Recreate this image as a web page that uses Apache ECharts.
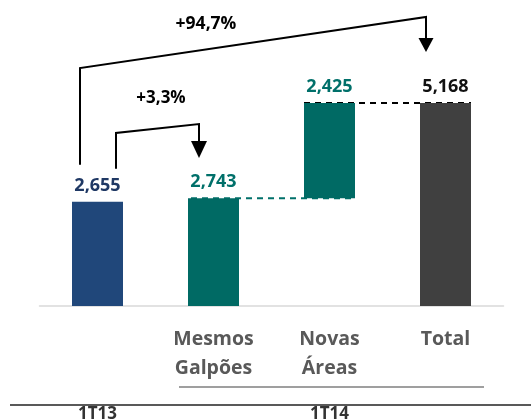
<!DOCTYPE html>
<html>
<head>
<meta charset="utf-8">
<script src="https://cdn.jsdelivr.net/npm/echarts@6/dist/echarts.min.js"></script>
<style>
  html, body { margin: 0; padding: 0; background: #fff; }
  #chart { width: 531px; height: 419px; }
</style>
</head>
<body>
<div id="chart"></div>
<script>
// Waterfall: 1T13 -> same warehouses -> new areas -> 1T14 total
const categories = ['', 'Mesmos\nGalpões', 'Novas\nÁreas', 'Total'];
const periodLabels = ['1T13', '', '1T14', ''];
const baseValues = [0, 0, 2743, 0];          // invisible offset under each bar
const barValues = [2655, 2743, 2425, 5168];   // visible bar heights
const valueLabels = ['2,655', '2,743', '2,425', '5,168'];
const growthLabels = ['+3,3%', '+94,7%'];

const barColors = ['#20477a', '#006a64', '#006a64', '#404040'];
const labelColors = ['#1f3864', '#00706a', '#00706a', '#111111'];
const FONT = '"Open Sans", sans-serif';

const chart = echarts.init(document.getElementById('chart'), null, { renderer: 'canvas' });

chart.setOption({
  animation: false,
  grid: { left: 39.5, right: 27.5, top: 70.3, bottom: 113 },
  xAxis: {
    type: 'category',
    data: categories,
    axisLine: { show: true, lineStyle: { color: '#d9d9d9', width: 1.5 } },
    axisTick: { show: false },
    axisLabel: {
      interval: 0,
      margin: 19,
      color: '#595959',
      fontFamily: FONT,
      fontWeight: 'bold',
      fontSize: 19.5,
      lineHeight: 29
    }
  },
  yAxis: {
    type: 'value',
    min: 0,
    max: 6000,
    show: false,
    splitLine: { show: false }
  },
  series: [
    {
      type: 'bar',
      stack: 'wf',
      data: baseValues,
      barWidth: 51,
      itemStyle: { color: 'transparent' },
      silent: true
    },
    {
      type: 'bar',
      stack: 'wf',
      barWidth: 51,
      data: barValues.map((v, i) => ({
        value: v,
        itemStyle: { color: barColors[i] },
        label: {
          show: true,
          position: 'top',
          distance: 7,
          formatter: valueLabels[i],
          color: labelColors[i],
          fontFamily: FONT,
          fontWeight: 'bold',
          fontSize: 18
        }
      }))
    }
  ]
});

// annotation layer anchored on the axes
function px(i, v) {
  return chart.convertToPixel({ xAxisIndex: 0, yAxisIndex: 0 }, [i, v]);
}
const half = 25.5;
const c0 = px(0, barValues[0]);
const c1 = px(1, barValues[1]);
const c2top = px(2, baseValues[2] + barValues[2]);
const c2base = px(2, baseValues[2]);
const c3 = px(3, barValues[3]);
const base = px(0, 0)[1];

const lineStyle = { stroke: '#000', lineWidth: 2, fill: null };
const graphics = [];

// connectors between bars
graphics.push({
  type: 'line',
  shape: { x1: c1[0] - half + 3, y1: c2base[1], x2: c2base[0] + half, y2: c2base[1] },
  style: { stroke: '#00706a', lineWidth: 2, lineDash: [6, 5] }
});
graphics.push({
  type: 'line',
  shape: { x1: c2top[0] - half, y1: c3[1], x2: c3[0] + half, y2: c3[1] },
  style: { stroke: '#000', lineWidth: 2, lineDash: [6, 5] }
});

// growth bracket 1T13 -> Total
graphics.push({
  type: 'polyline',
  shape: { points: [[c0[0] - 17.5, c0[1] - 37], [c0[0] - 17.5, 68], [c3[0] - 19.5, 17], [c3[0] - 19.5, 40]] },
  style: lineStyle
});
graphics.push({
  type: 'polygon',
  shape: { points: [[c3[0] - 27, 38], [c3[0] - 12, 38], [c3[0] - 19.5, 52]] },
  style: { fill: '#000' }
});
graphics.push({
  type: 'text',
  x: 206, y: 24,
  style: { text: growthLabels[1], font: 'bold 17.5px ' + FONT, fill: '#000', align: 'center', verticalAlign: 'middle' }
});

// growth bracket 1T13 -> Mesmos Galpões
graphics.push({
  type: 'polyline',
  shape: { points: [[c0[0] + 18.5, c0[1] - 33], [c0[0] + 18.5, 133], [c1[0] - 14.5, 124], [c1[0] - 14.5, 143]] },
  style: lineStyle
});
graphics.push({
  type: 'polygon',
  shape: { points: [[c1[0] - 22.5, 141], [c1[0] - 6.5, 141], [c1[0] - 14.5, 158]] },
  style: { fill: '#000' }
});
graphics.push({
  type: 'text',
  x: 161, y: 98,
  style: { text: growthLabels[0], font: 'bold 17px ' + FONT, fill: '#000', align: 'center', verticalAlign: 'middle' }
});

// period grouping lines and labels
graphics.push({
  type: 'line',
  shape: { x1: c1[0] - 34.5, y1: base + 81, x2: c3[0] + 38.5, y2: base + 81 },
  style: { stroke: '#7f7f7f', lineWidth: 1.5 }
});
graphics.push({
  type: 'line',
  shape: { x1: 10, y1: base + 99, x2: 531, y2: base + 99 },
  style: { stroke: '#222', lineWidth: 1.5 }
});
periodLabels.forEach((t, i) => {
  if (!t) return;
  const p = px(i, 0);
  graphics.push({
    type: 'text',
    x: p[0], y: base + 100,
    style: { text: t, font: 'bold 17px ' + FONT, fill: '#333', align: 'center', verticalAlign: 'top' }
  });
});

chart.setOption({ graphic: graphics });
</script>
</body>
</html>
